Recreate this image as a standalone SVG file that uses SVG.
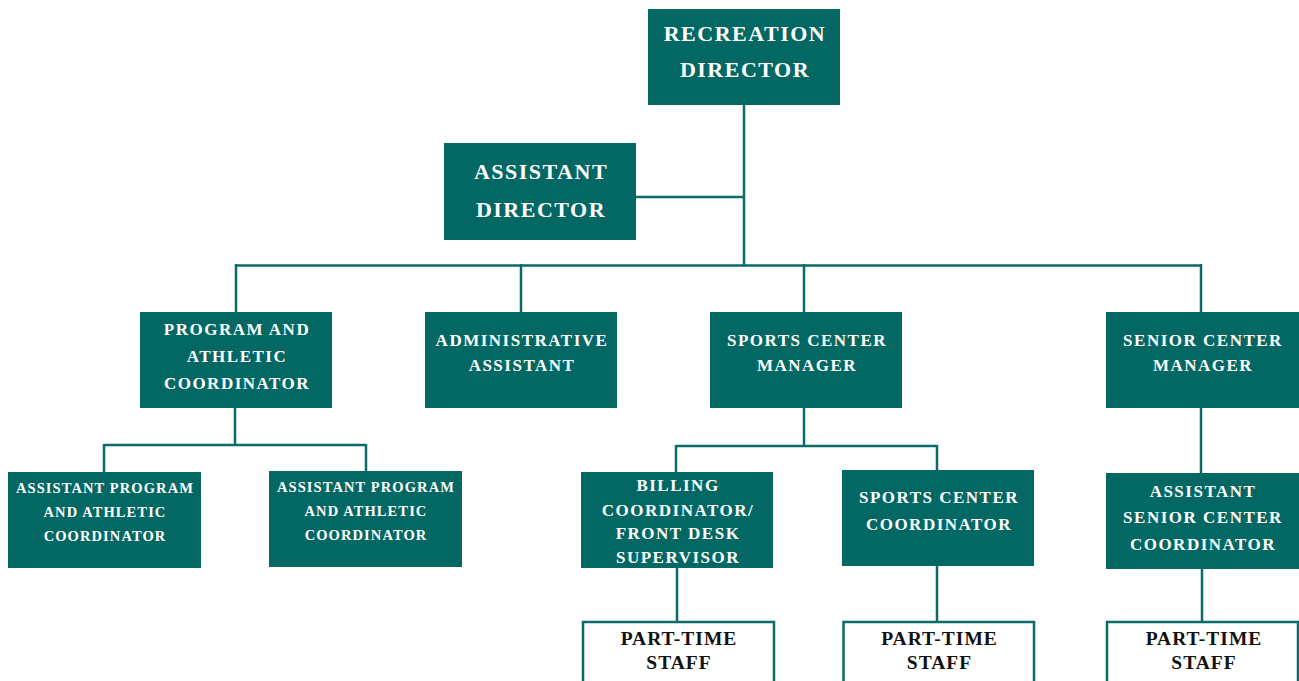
<svg xmlns="http://www.w3.org/2000/svg" width="1299" height="681" viewBox="0 0 1299 681">
<style>
.box{fill:#036864}
.pt{fill:#ffffff;stroke:#0b6b68;stroke-width:2.5}
.t{font-family:"Liberation Serif","Times New Roman",serif;font-weight:bold;fill:#ffffff;text-anchor:middle}
.big{font-size:22px;letter-spacing:1.5px}
.mid{font-size:17px;letter-spacing:1.5px}
.sm{font-size:14.5px;letter-spacing:1.1px}
.blk{font-family:"Liberation Serif","Times New Roman",serif;font-weight:bold;fill:#111111;text-anchor:middle;font-size:19.5px;letter-spacing:1px}
.c{fill:none;stroke:#0b6b68;stroke-width:2.5}
</style>
<rect width="1299" height="681" fill="#ffffff"/>
<g id="connectors">
<path class="c" d="M744 105V265.5M636 197H744M236 265.5H1201.5M236 264V312M521 264V312M804 264V312M1201 264V312"/>
<path class="c" d="M235 408V445M104 445H366M104 444V472M366 444V471"/>
<path class="c" d="M804 408V446M676 446H937M676 445V472M937 445V470"/>
<path class="c" d="M1201 408V473"/>
<path class="c" d="M677 568V621M937 566V621M1202 569V621"/>
</g>
<g id="recreation-director">
<rect class="box" x="648" y="9" width="192" height="96"/>
<text class="t big" x="745" y="41">RECREATION</text>
<text class="t big" x="745" y="77">DIRECTOR</text>
</g>
<g id="assistant-director">
<rect class="box" x="444" y="143" width="192" height="97"/>
<text class="t big" x="541" y="179">ASSISTANT</text>
<text class="t big" x="541" y="217">DIRECTOR</text>
</g>
<g id="program-athletic-coordinator">
<rect class="box" x="140" y="312" width="192" height="96"/>
<text class="t mid" x="237" y="335">PROGRAM AND</text>
<text class="t mid" x="237" y="362">ATHLETIC</text>
<text class="t mid" x="237" y="389">COORDINATOR</text>
</g>
<g id="administrative-assistant">
<rect class="box" x="425" y="312" width="192" height="96"/>
<text class="t mid" x="522" y="346">ADMINISTRATIVE</text>
<text class="t mid" x="522" y="371">ASSISTANT</text>
</g>
<g id="sports-center-manager">
<rect class="box" x="710" y="312" width="192" height="96"/>
<text class="t mid" x="807" y="346">SPORTS CENTER</text>
<text class="t mid" x="807" y="371">MANAGER</text>
</g>
<g id="senior-center-manager">
<rect class="box" x="1106" y="312" width="193" height="96"/>
<text class="t mid" x="1203" y="346">SENIOR CENTER</text>
<text class="t mid" x="1203" y="371">MANAGER</text>
</g>
<g id="assistant-program-1">
<rect class="box" x="8" y="472" width="193" height="96"/>
<text class="t sm" x="105" y="493">ASSISTANT PROGRAM</text>
<text class="t sm" x="105" y="517">AND ATHLETIC</text>
<text class="t sm" x="105" y="541">COORDINATOR</text>
</g>
<g id="assistant-program-2">
<rect class="box" x="269" y="471" width="193" height="96"/>
<text class="t sm" x="366" y="492">ASSISTANT PROGRAM</text>
<text class="t sm" x="366" y="516">AND ATHLETIC</text>
<text class="t sm" x="366" y="540">COORDINATOR</text>
</g>
<g id="billing-coordinator">
<rect class="box" x="581" y="472" width="192" height="96"/>
<text class="t mid" x="678" y="491">BILLING</text>
<text class="t mid" x="678" y="516">COORDINATOR/</text>
<text class="t mid" x="678" y="539">FRONT DESK</text>
<text class="t mid" x="678" y="563">SUPERVISOR</text>
</g>
<g id="sports-center-coordinator">
<rect class="box" x="842" y="470" width="192" height="96"/>
<text class="t mid" x="939" y="503">SPORTS CENTER</text>
<text class="t mid" x="939" y="530">COORDINATOR</text>
</g>
<g id="assistant-senior-center-coordinator">
<rect class="box" x="1106" y="473" width="193" height="96"/>
<text class="t mid" x="1203" y="497">ASSISTANT</text>
<text class="t mid" x="1203" y="523">SENIOR CENTER</text>
<text class="t mid" x="1203" y="550">COORDINATOR</text>
</g>
<g id="part-time-staff-1">
<rect class="pt" x="583" y="622" width="191" height="80"/>
<text class="blk" x="679" y="645">PART-TIME</text>
<text class="blk" x="679" y="669">STAFF</text>
</g>
<g id="part-time-staff-2">
<rect class="pt" x="843.5" y="622" width="190.5" height="80"/>
<text class="blk" x="939.5" y="645">PART-TIME</text>
<text class="blk" x="939.5" y="669">STAFF</text>
</g>
<g id="part-time-staff-3">
<rect class="pt" x="1107" y="622" width="191" height="80"/>
<text class="blk" x="1204" y="645">PART-TIME</text>
<text class="blk" x="1204" y="669">STAFF</text>
</g>
</svg>
